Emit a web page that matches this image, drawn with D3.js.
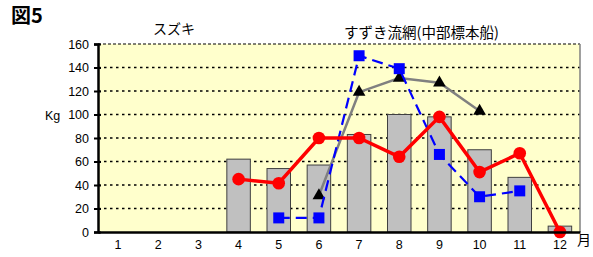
<!DOCTYPE html>
<html><head><meta charset="utf-8">
<script src="https://cdn.jsdelivr.net/npm/d3@7"></script>
<style>body{margin:0;background:#fff;}svg{display:block;font-family:"Liberation Sans",Arial,sans-serif;}</style>
</head><body>
<svg id="c" width="593" height="257"></svg>
<script>
const months = ["1","2","3","4","5","6","7","8","9","10","11","12"];
const yTicks = [0,20,40,60,80,100,120,140,160];
const barValues = [null,null,null,62,54,57,83,100,98,70,46.5,5];
const redValues = [null,null,null,45,41.5,80,80,64,98,51,67,0];
const blueValues = [null,null,null,null,12,12,150,139,66,30,35,null];
const triValues = [null,null,null,null,null,31,119,131,127,103,null,null];

const svg = d3.select("#c");
const L = 98, R = 580, T = 44, B = 232;
const x = d3.scaleBand().domain(months).range([L, R]);
const y = d3.scaleLinear().domain([0,160]).range([B, T]);

svg.append("rect").attr("x",L).attr("y",T).attr("width",R-L).attr("height",B-T).attr("fill","#FFFFCC");
svg.append("g").selectAll("line").data(yTicks.filter(d=>d>0&&d<160)).join("line")
  .attr("x1",L).attr("x2",R).attr("y1",d=>y(d)).attr("y2",d=>y(d))
  .attr("stroke","#000").attr("stroke-width",1.5).attr("stroke-dasharray","2.5,3.5");
svg.append("line").attr("x1",L).attr("x2",R).attr("y1",T).attr("y2",T).attr("stroke","#000").attr("stroke-width",1.2).attr("stroke-dasharray","3,2");
svg.append("line").attr("x1",R).attr("x2",R).attr("y1",T).attr("y2",B).attr("stroke","#808080").attr("stroke-width",1.5);

const bw = 23.5;
svg.append("g").selectAll("rect").data(months.map((m,i)=>({m,v:barValues[i]})).filter(d=>d.v!=null)).join("rect")
  .attr("x",d=>x(d.m)+x.bandwidth()/2-bw/2).attr("width",bw)
  .attr("y",d=>y(d.v)).attr("height",d=>B-y(d.v))
  .attr("fill","#C0C0C0").attr("stroke","#404040").attr("stroke-width",1);

const cx = m => x(m)+x.bandwidth()/2;
function pts(vals){return months.map((m,i)=>({m,v:vals[i]})).filter(d=>d.v!=null);}
const line = d3.line().x(d=>cx(d.m)).y(d=>y(d.v));

svg.append("path").attr("d",line(pts(triValues))).attr("fill","none").attr("stroke","#808080").attr("stroke-width",2.5);
svg.append("g").selectAll("path").data(pts(triValues)).join("path")
  .attr("d",d3.symbol(d3.symbolTriangle,70)).attr("transform",d=>`translate(${cx(d.m)},${y(d.v)})`).attr("fill","#000");

svg.append("path").attr("d",line(pts(blueValues))).attr("fill","none").attr("stroke","#0000FF").attr("stroke-width",2.2).attr("stroke-dasharray","11,6");
svg.append("g").selectAll("rect").data(pts(blueValues)).join("rect")
  .attr("x",d=>cx(d.m)-5.5).attr("y",d=>y(d.v)-5.5).attr("width",11).attr("height",11).attr("fill","#0000FF");

svg.append("path").attr("d",line(pts(redValues))).attr("fill","none").attr("stroke","#FF0000").attr("stroke-width",3.5);
svg.append("g").selectAll("circle").data(pts(redValues)).join("circle")
  .attr("cx",d=>cx(d.m)).attr("cy",d=>y(d.v)).attr("r",6.3).attr("fill","#FF0000");

const ya = svg.append("g").attr("transform",`translate(${L},0)`).call(d3.axisLeft(y).tickValues(yTicks).tickSize(4).tickPadding(5));
ya.select(".domain").attr("stroke","#000").attr("stroke-width",2.5);
ya.selectAll("line").attr("stroke-width",2).attr("x2",-4).attr("x1",3);
ya.selectAll("text").attr("font-size",12.5).attr("fill","#000");
const xa = svg.append("g").attr("transform",`translate(0,${B})`).call(d3.axisBottom(x).tickSize(0).tickPadding(8));
xa.select(".domain").attr("stroke","#000").attr("stroke-width",2.5);
xa.selectAll("text").attr("font-size",12.5).attr("fill","#000");

svg.append("text").attr("x",45).attr("y",120).attr("font-size",12.5).text("Kg");
svg.append("text").attr("x",577).attr("y",245).attr("font-size",14).attr("font-family","Noto Sans CJK JP").text("月");
svg.append("text").attr("x",11).attr("y",23).attr("font-size",20).attr("font-weight","bold").attr("font-family","Noto Sans CJK JP").text("図5");
svg.append("text").attr("x",153).attr("y",34).attr("font-size",14).attr("font-family","Noto Sans CJK JP").text("スズキ");
svg.append("text").attr("x",344).attr("y",38).attr("font-size",14.5).attr("font-family","Noto Sans CJK JP").text("すずき流網(中部標本船)");
</script>
</body></html>
